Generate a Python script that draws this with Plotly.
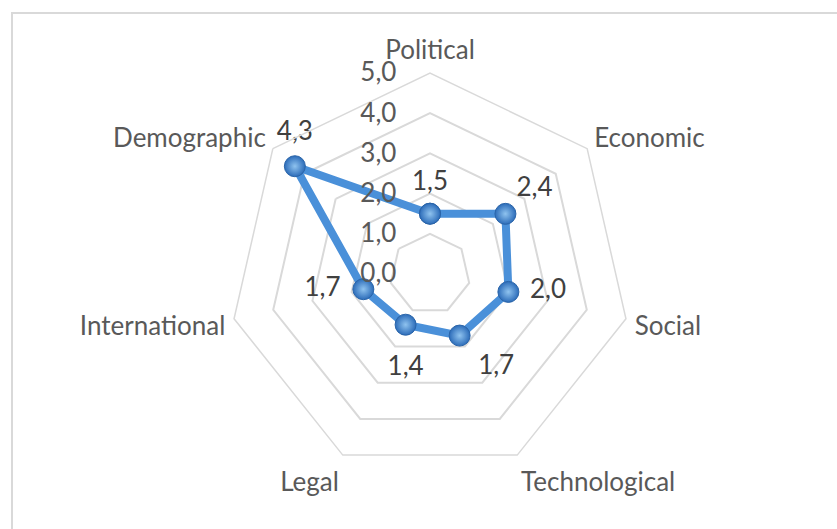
import plotly.graph_objects as go

# PESTLE-style factor scores
categories = ["Political", "Economic", "Social", "Technological",
              "Legal", "International", "Demographic"]
scores = [1.5, 2.4, 2.0, 1.7, 1.4, 1.7, 4.3]
radial_ticks = [0, 1, 2, 3, 4, 5]
radial_ticktext = ["0,0", "1,0", "2,0", "3,0", "4,0", "5,0"]

W, H = 837, 529
CX, CY, R = 430, 274, 201  # pixel centre and outer radius of the web

label_font = dict(family="Lato, Open Sans, sans-serif", size=26, color="#595959")
value_font = dict(family="Lato, Open Sans, sans-serif", size=26, color="#404040")
grid_col = "#d9d9d9"
line_col = "#4a90d9"

# label placement around each point (text side + spacer marker size)
label_pos = ["top center", "top right", "middle right", "bottom right",
             "bottom center", "middle left", "top center"]
label_gap = [26, 16, 33, 28, 48, 35, 30]

theta_closed = categories + categories[:1]
r_closed = scores + scores[:1]

fig = go.Figure()

# value labels, pushed away from the points by invisible spacer markers
fig.add_trace(go.Scatterpolar(
    r=scores, theta=categories,
    mode="markers+text",
    text=[f"{v:.1f}".replace(".", ",") for v in scores],
    textposition=label_pos,
    textfont=value_font,
    marker=dict(size=label_gap, color="rgba(0,0,0,0)",
                line=dict(width=0, color="rgba(0,0,0,0)")),
    hoverinfo="skip", showlegend=False, cliponaxis=False,
))

# the series outline with spherical-looking markers
fig.add_trace(go.Scatterpolar(
    r=r_closed, theta=theta_closed,
    mode="lines+markers",
    line=dict(color=line_col, width=8),
    marker=dict(size=21, color="#2c6cb9",
                gradient=dict(type="radial", color="#8fc3ef"),
                line=dict(color="#2a64a8", width=1)),
    hoverinfo="skip", showlegend=False,
))

fig.update_layout(
    width=W, height=H,
    margin=dict(l=0, r=0, t=0, b=0),
    paper_bgcolor="white",
    plot_bgcolor="white",
    showlegend=False,
    polar=dict(
        domain=dict(x=[(CX - R) / W, (CX + R) / W],
                    y=[1 - (CY + R) / H, 1 - (CY - R) / H]),
        gridshape="linear",
        bgcolor="white",
        radialaxis=dict(
            range=[0, 5], tickvals=radial_ticks, ticktext=radial_ticktext,
            angle=90, tickangle=90, side="counterclockwise",
            showline=False, showgrid=True, gridcolor=grid_col, gridwidth=1.5,
            ticks="outside", ticklen=24, tickcolor="rgba(0,0,0,0)",
            tickfont=label_font,
        ),
        angularaxis=dict(
            direction="clockwise", rotation=90,
            showgrid=False, showline=True, linecolor=grid_col, linewidth=1.5,
            ticks="outside", ticklen=3, tickcolor="rgba(0,0,0,0)",
            tickfont=label_font,
        ),
    ),
    shapes=[dict(
        type="rect", xref="paper", yref="paper",
        x0=12 / W, x1=1.05, y0=-0.05, y1=1 - 13 / H,
        line=dict(color=grid_col, width=2), fillcolor="rgba(0,0,0,0)",
        layer="below",
    )],
)

fig.write_html("out.html")
